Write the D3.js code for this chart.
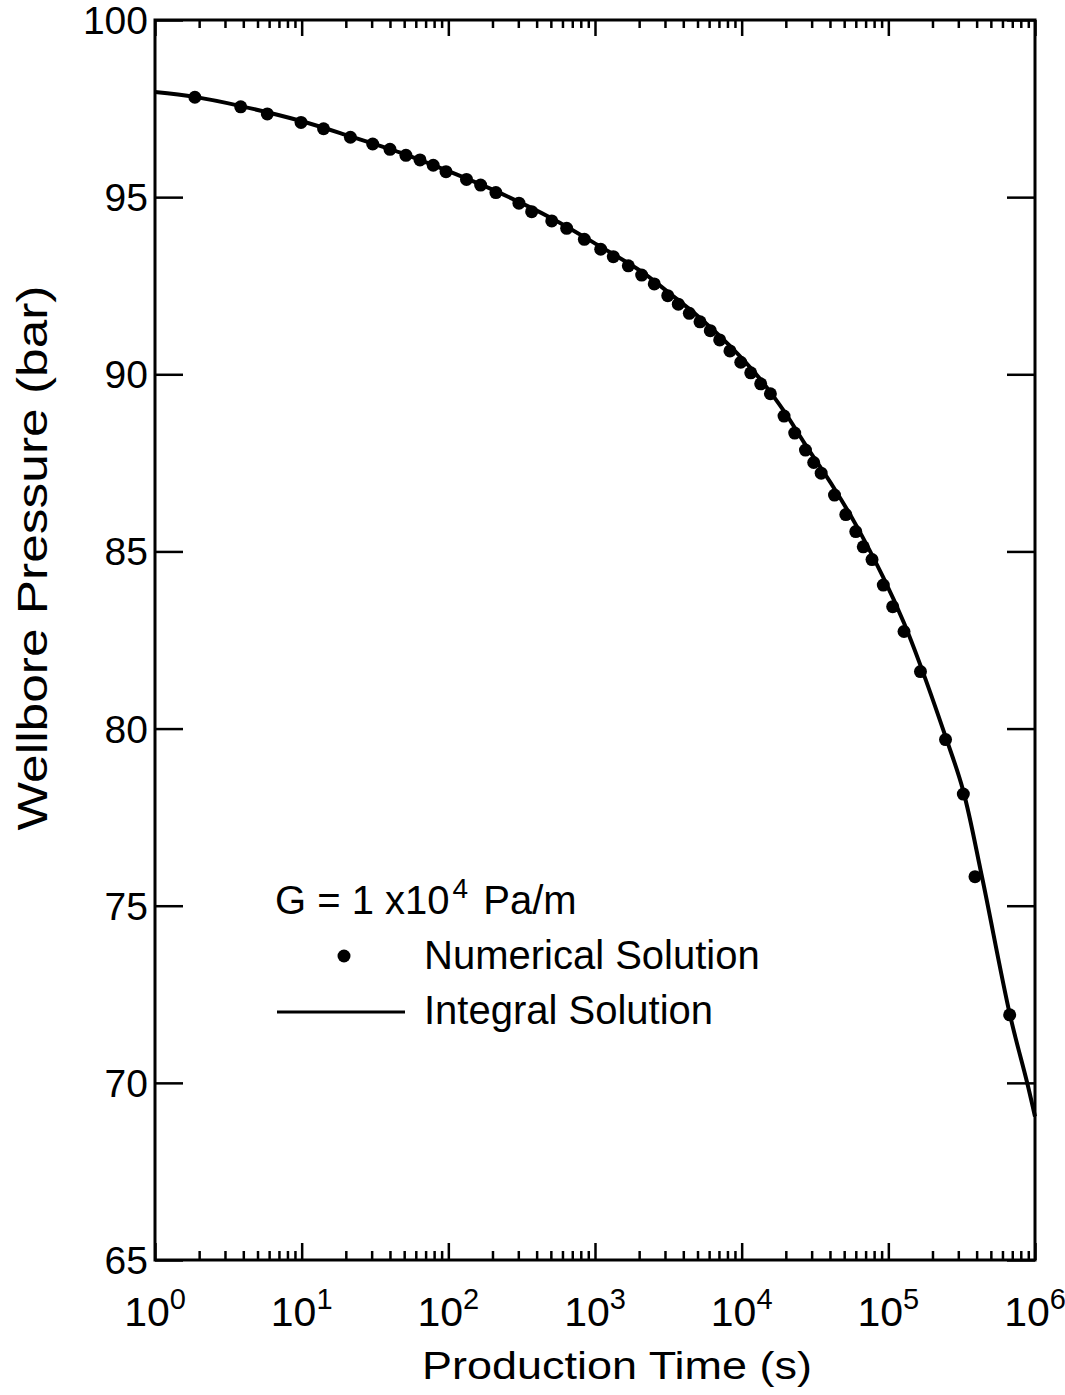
<!DOCTYPE html>
<html>
<head>
<meta charset="utf-8">
<script src="https://cdn.jsdelivr.net/npm/d3@7"></script>
<style>
  html, body { margin: 0; padding: 0; background: #fff; }
  svg { display: block; }
  text { font-family: "Liberation Sans", Arial, Helvetica, sans-serif; fill: #000; }
</style>
</head>
<body>
<svg id="chart" width="1065" height="1395"></svg>
<script>
// ---- data ----
const xDomain = [1, 1e6];
const yDomain = [65, 100];
const xMajorTicks = [1, 10, 100, 1000, 10000, 100000, 1000000];
const xTickExponents = ["0", "1", "2", "3", "4", "5", "6"];
const yTicks = [65, 70, 75, 80, 85, 90, 95, 100];

// Numerical solution (dots)
const dotTime = [1.87, 3.84, 5.83, 9.9, 14.1, 21.5, 30.5, 40, 51.4, 64.1, 78.9, 96.4,
  133, 166, 211, 303, 370, 507, 641, 846, 1094, 1333, 1687, 2081, 2536, 3133, 3698,
  4397, 5200, 6111, 7080, 8321, 9863, 11530, 13480, 15700, 19450, 23000, 27230,
  30980, 34840, 42950, 51290, 59980, 67470, 77400, 92400, 107100, 127900, 165600,
  245500, 324600, 389900, 672000];
const dotPressure = [97.82, 97.55, 97.35, 97.11, 96.93, 96.69, 96.50, 96.35, 96.18, 96.05, 95.90, 95.72,
  95.50, 95.34, 95.13, 94.83, 94.59, 94.33, 94.12, 93.81, 93.53, 93.32, 93.06, 92.80, 92.55, 92.22, 91.98,
  91.72, 91.48, 91.23, 90.97, 90.66, 90.34, 90.04, 89.73, 89.45, 88.82, 88.34, 87.86,
  87.51, 87.21, 86.59, 86.04, 85.56, 85.13, 84.77, 84.05, 83.44, 82.74, 81.61,
  79.69, 78.15, 75.82, 71.92];

// Integral solution (line)
const lineTime = [1, 1.87, 3.85, 9.9, 21.7, 50.6, 98, 211, 509, 1082, 2090, 3147, 5200, 8318,
  13330, 19440, 27030, 42580, 60130, 91990, 127900, 164400, 243300, 322800, 435300, 675000, 881000, 1000000];
const linePressure = [97.97, 97.83, 97.57, 97.15, 96.71, 96.21, 95.75, 95.17, 94.40, 93.61, 92.89, 92.32, 91.59, 90.80,
  89.87, 88.96, 88.03, 86.79, 85.75, 84.28, 82.98, 81.82, 79.82, 78.27, 75.81, 71.92, 70.03, 69.05];

const xTitle = "Production Time (s)";
const yTitle = "Wellbore Pressure (bar)";
const legendTitle = ["G = 1 x10", "4", " Pa/m"];
const legendDots = "Numerical Solution";
const legendLine = "Integral Solution";

// ---- layout ----
const L = 155, R = 1035, T = 20, B = 1260;
const svg = d3.select("#chart");
const x = d3.scaleLog().domain(xDomain).range([L, R]);
const y = d3.scaleLinear().domain(yDomain).range([B, T]);

const minorTicks = [];
for (let e = 0; e < 6; e++) for (let m = 2; m <= 9; m++) minorTicks.push(m * Math.pow(10, e));

function styleAxis(g) {
  g.select(".domain").remove();
  g.selectAll(".tick line").attr("stroke", "#000").attr("stroke-width", 2.5);
}

// bottom axis ticks (inward)
svg.append("g").attr("transform", `translate(0,${B})`)
  .call(d3.axisBottom(x).tickValues(minorTicks).tickSize(-9).tickFormat(""))
  .call(styleAxis);
svg.append("g").attr("transform", `translate(0,${B})`)
  .call(d3.axisBottom(x).tickValues(xMajorTicks).tickSize(-17).tickFormat(""))
  .call(styleAxis);
// top axis ticks (inward)
svg.append("g").attr("transform", `translate(0,${T})`)
  .call(d3.axisTop(x).tickValues(minorTicks).tickSize(-8).tickFormat(""))
  .call(styleAxis);
svg.append("g").attr("transform", `translate(0,${T})`)
  .call(d3.axisTop(x).tickValues(xMajorTicks).tickSize(-16).tickFormat(""))
  .call(styleAxis);
// left & right axis ticks (inward)
svg.append("g").attr("transform", `translate(${L},0)`)
  .call(d3.axisLeft(y).tickValues(yTicks).tickSize(-28).tickFormat(""))
  .call(styleAxis);
svg.append("g").attr("transform", `translate(${R},0)`)
  .call(d3.axisRight(y).tickValues(yTicks).tickSize(-28).tickFormat(""))
  .call(styleAxis);

// frame
svg.append("rect").attr("x", L).attr("y", T).attr("width", R - L).attr("height", B - T)
  .attr("fill", "none").attr("stroke", "#000").attr("stroke-width", 3);

// y tick labels
svg.append("g").selectAll("text").data(yTicks).join("text")
  .attr("x", L - 7).attr("y", d => y(d)).attr("dy", "0.36em")
  .attr("text-anchor", "end").attr("font-size", 39)
  .text(d => d);

// x tick labels
const xl = svg.append("g").selectAll("text").data(xMajorTicks).join("text")
  .attr("x", d => x(d)).attr("y", B + 66)
  .attr("text-anchor", "middle").attr("font-size", 41);
xl.append("tspan").text("10");
xl.append("tspan").attr("dy", -17).attr("font-size", 29).text((d, i) => xTickExponents[i]);

// axis titles
svg.append("text").attr("x", 617).attr("y", 1379).attr("text-anchor", "middle")
  .attr("font-size", 39).attr("textLength", 390).attr("lengthAdjust", "spacingAndGlyphs")
  .text(xTitle);
svg.append("text").attr("transform", `translate(47,${558}) rotate(-90)`)
  .attr("text-anchor", "middle").attr("font-size", 42)
  .attr("textLength", 545).attr("lengthAdjust", "spacingAndGlyphs")
  .text(yTitle);

// integral solution line
const lineData = lineTime.map((t, i) => [t, linePressure[i]]);
svg.append("path").datum(lineData)
  .attr("fill", "none").attr("stroke", "#000").attr("stroke-width", 4)
  .attr("d", d3.line().x(d => x(d[0])).y(d => y(d[1])).curve(d3.curveCatmullRom.alpha(0.5)));

// numerical solution dots
const dotData = dotTime.map((t, i) => [t, dotPressure[i]]);
svg.append("g").selectAll("circle").data(dotData).join("circle")
  .attr("cx", d => x(d[0])).attr("cy", d => y(d[1])).attr("r", 6.5).attr("fill", "#000");

// legend
const lg = svg.append("g");
const lt = lg.append("text").attr("x", 275).attr("y", 914).attr("font-size", 40)
  .attr("xml:space", "preserve").style("white-space", "pre");
lt.append("tspan").text(legendTitle[0]);
lt.append("tspan").attr("dx", 3).attr("dy", -16).attr("font-size", 28).text(legendTitle[1]);
lt.append("tspan").attr("dx", 4).attr("dy", 16).text(legendTitle[2]);
lg.append("circle").attr("cx", 344).attr("cy", 956).attr("r", 6.5).attr("fill", "#000");
lg.append("text").attr("x", 424).attr("y", 969).attr("font-size", 40).text(legendDots);
lg.append("line").attr("x1", 277).attr("x2", 405).attr("y1", 1012).attr("y2", 1012)
  .attr("stroke", "#000").attr("stroke-width", 3);
lg.append("text").attr("x", 424).attr("y", 1024).attr("font-size", 40).text(legendLine);
</script>
</body>
</html>
